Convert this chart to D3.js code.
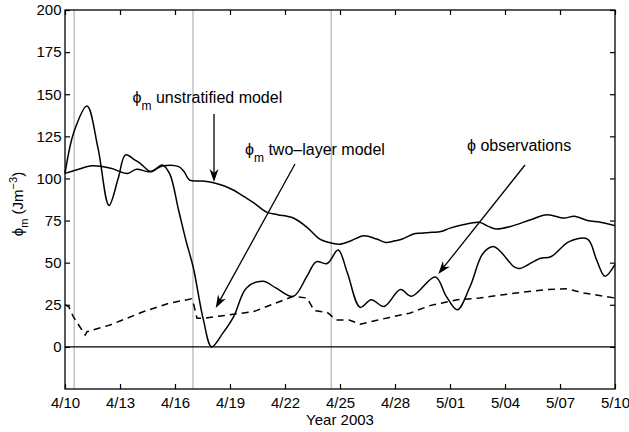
<!DOCTYPE html>
<html><head><meta charset="utf-8">
<script src="https://cdn.jsdelivr.net/npm/d3@7"></script>
<style>body{margin:0;background:#fff} text{font-family:"Liberation Sans",Arial,Helvetica,sans-serif;fill:#000}</style>
</head><body><svg id="c" width="629" height="432"></svg>
<script>
// ---- data (x = days since 10 April 2003) ----
const xTickDays = [0,3,6,9,12,15,18,21,24,27,30];
const xTickLabels = ["4/10","4/13","4/16","4/19","4/22","4/25","4/28","5/01","5/04","5/07","5/10"];
const yTickValues = [0,25,50,75,100,125,150,175,200];
const eventDays = [0.5, 6.98, 14.52];

const obsDays = [0,0.5,1.2,1.8,2.4,2.9,3.3,3.8,4.1,4.7,5.3,5.7,6.2,6.6,7.0,7.55,8.0,8.6,9.2,9.9,10.8,11.5,12.45,13.2,13.7,14.3,14.9,15.4,16.1,16.7,17.4,18.3,18.9,20.2,20.8,21.4,22.1,22.8,23.4,24.5,24.8,25.9,26.5,27.5,28.5,29.0,29.45,30];
const obsValues = [103,128,143,118,84,100,114,111,109,104,108,103,81,63,47,16,0,8,18,35,39,35,30,42,50.5,49.5,57.5,44,23.5,28,24,34,30,41.5,30,22,36,55.5,59.5,47.5,46.5,52.5,53.5,62.5,64,51.5,42,49];

const unstratDays = [0,0.6,1.5,2.5,3.4,3.9,4.6,5.35,6.2,6.5,6.8,7.5,8.1,8.7,9.2,9.8,10.3,11.0,11.6,12.45,13.2,13.9,14.6,15.0,15.6,16.3,17.0,17.5,18.0,18.4,19.0,19.4,20.0,20.5,21.0,21.7,22.6,23.0,23.5,24.3,25.4,26.3,27.2,27.8,28.5,29.2,30];
const unstratValues = [103,105,107.5,106,103,105.5,104,107.5,107,104,99,98.5,97.5,95.5,93,89,85.5,80,78.5,76.5,71,64,61.5,61,63,66,64,62,63,64,67,67.5,68,68.5,70.5,72.5,74,72,70,71.5,75.5,78.5,76.5,77.5,75,74,72];

const twoLayerDays = [0,0.2,0.45,1.1,1.2,2.45,4.3,5.7,6.9,7.0,7.2,7.55,8.6,10.3,12.45,13.2,13.6,14.3,14.8,15.5,16.1,17.7,18.8,19.9,21.4,22.6,23.9,24.6,26.3,27.4,28.3,30];
const twoLayerValues = [25,24,18,7,9,13,21,26,28.5,26,17,17,18.5,21,30,29,21.5,20.5,16,16,13.5,17.5,20,24.5,28,29,31,32,34,34.5,32,29];

// ---- chart ----
const svg = d3.select("#c");
const L=65, R=615, T=10, B=389;
const x = d3.scaleLinear().domain([0,30]).range([L,R]);
const y = d3.scaleLinear().domain([-25,200]).range([B,T]);

// event lines
svg.append("g").selectAll("line").data(eventDays).join("line")
  .attr("x1",d=>x(d)).attr("x2",d=>x(d)).attr("y1",T).attr("y2",B)
  .attr("stroke","#b3b3b3").attr("stroke-width",1.2);

// zero line
svg.append("line").attr("x1",L).attr("x2",R).attr("y1",y(0)).attr("y2",y(0))
  .attr("stroke","#000").attr("stroke-width",1.3);

// axes
const fmt = (d)=> xTickLabels[xTickDays.indexOf(d)];
const gb = svg.append("g").attr("transform",`translate(0,${B})`)
  .call(d3.axisBottom(x).tickValues(xTickDays).tickFormat(fmt).tickSizeInner(-5).tickSizeOuter(0).tickPadding(8));
const gt = svg.append("g").attr("transform",`translate(0,${T})`)
  .call(d3.axisTop(x).tickValues(xTickDays).tickFormat("").tickSizeInner(-5).tickSizeOuter(0));
const gl = svg.append("g").attr("transform",`translate(${L},0)`)
  .call(d3.axisLeft(y).tickValues(yTickValues).tickSizeInner(-5).tickSizeOuter(0).tickPadding(3.5));
const gr = svg.append("g").attr("transform",`translate(${R},0)`)
  .call(d3.axisRight(y).tickValues(yTickValues).tickFormat("").tickSizeInner(-5).tickSizeOuter(0));
[gb,gt,gl,gr].forEach(g=>{
  g.select(".domain").remove();
  g.selectAll(".tick line").attr("stroke","#000").attr("stroke-width",1.2);
  g.selectAll("text").attr("font-size",15).attr("font-family",'"Liberation Sans",Arial,sans-serif').attr("fill","#000");
});
svg.append("rect").attr("x",L).attr("y",T).attr("width",R-L).attr("height",B-T)
  .attr("fill","none").attr("stroke","#000").attr("stroke-width",1.3);

// series
const mk = (days, vals)=> days.map((d,i)=>[d, vals[i]]);
const smooth = d3.line().x(d=>x(d[0])).y(d=>y(d[1])).curve(d3.curveCatmullRom.alpha(0.5));
const lin = d3.line().x(d=>x(d[0])).y(d=>y(d[1]));
svg.append("path").attr("d",smooth(mk(unstratDays,unstratValues)))
  .attr("fill","none").attr("stroke","#000").attr("stroke-width",1.5);
svg.append("path").attr("d",smooth(mk(obsDays,obsValues)))
  .attr("fill","none").attr("stroke","#000").attr("stroke-width",1.5);
svg.append("path").attr("d",lin(mk(twoLayerDays,twoLayerValues)))
  .attr("fill","none").attr("stroke","#000").attr("stroke-width",1.5).attr("stroke-dasharray","7,5");

// axis titles
svg.append("text").attr("x",(L+R)/2).attr("y",425).attr("text-anchor","middle").attr("font-size",15).text("Year 2003");
const yl = svg.append("text").attr("transform","translate(23,204) rotate(-90)").attr("text-anchor","middle").attr("font-size",15);
yl.append("tspan").text("ϕ");
yl.append("tspan").attr("font-size",11).attr("dy",5).text("m");
yl.append("tspan").attr("dy",-5).text(" (Jm");
yl.append("tspan").attr("font-size",11).attr("dy",-6).text("−3");
yl.append("tspan").attr("dy",6).text(")");

// annotations
function label(x0, yb, sub, rest){
  const t = svg.append("text").attr("x",x0).attr("y",yb).attr("font-size",16);
  t.append("tspan").text("ϕ");
  if(sub){
    t.append("tspan").attr("font-size",12).attr("dy",7).text(sub);
    t.append("tspan").attr("dy",-7).text(" "+rest);
  } else t.append("tspan").text(" "+rest);
}
label(132.5,103,"m","unstratified model");
label(245,155,"m","two\u2013layer model");
label(467,151,null,"observations");

function arrow(x1,y1,x2,y2){
  const a = Math.atan2(y2-y1,x2-x1), len=13, w=4.5, notch=9;
  const bx = x2-len*Math.cos(a), by=y2-len*Math.sin(a);
  const nx = x2-notch*Math.cos(a), ny=y2-notch*Math.sin(a);
  const px=-Math.sin(a), py=Math.cos(a);
  svg.append("line").attr("x1",x1).attr("y1",y1).attr("x2",nx).attr("y2",ny)
    .attr("stroke","#000").attr("stroke-width",1.3);
  svg.append("path").attr("d",`M${x2},${y2}L${bx+px*w},${by+py*w}L${nx},${ny}L${bx-px*w},${by-py*w}Z`)
    .attr("fill","#000");
}
arrow(214,114,214,182);
arrow(295,164,215.7,308);
arrow(525,165,438.3,274);
</script></body></html>
